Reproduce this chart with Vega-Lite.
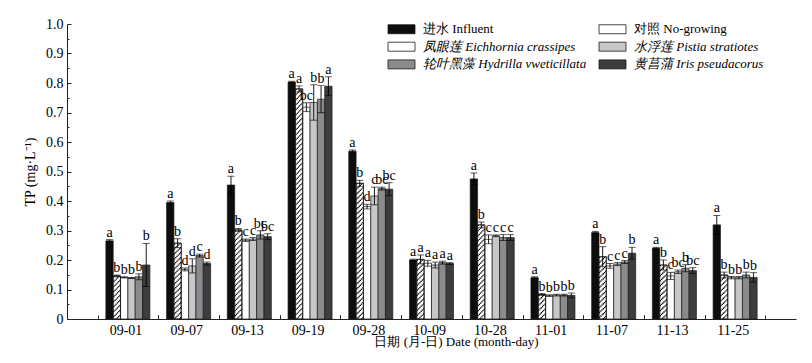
{
"$schema":"https://vega.github.io/schema/vega-lite/v6.json",
"width":729,"height":295,
"autosize":{"type":"none"},
"padding":{"left":67,"top":24,"right":16,"bottom":44},
"background":"#ffffff",
"config":{"view":{"stroke":null},"axis":{"grid":false}},
"data":{"values":[
{"d":"09-01","s":"进水 Influent","v":0.265,"lo":0.261,"hi":0.269,"l":"a"},
{"d":"09-01","s":"对照 No-growing","v":0.146,"lo":0.143,"hi":0.149,"l":"b"},
{"d":"09-01","s":"凤眼莲 Eichhornia crassipes","v":0.141,"lo":0.139,"hi":0.143,"l":"b"},
{"d":"09-01","s":"水浮莲 Pistia stratiotes","v":0.139,"lo":0.137,"hi":0.141,"l":"b"},
{"d":"09-01","s":"轮叶黑藻 Hydrilla vweticillata","v":0.143,"lo":0.133,"hi":0.153,"l":"b"},
{"d":"09-01","s":"黄菖蒲 Iris pseudacorus","v":0.183,"lo":0.110,"hi":0.256,"l":"b"},
{"d":"09-07","s":"进水 Influent","v":0.395,"lo":0.390,"hi":0.400,"l":"a"},
{"d":"09-07","s":"对照 No-growing","v":0.257,"lo":0.242,"hi":0.272,"l":"b"},
{"d":"09-07","s":"凤眼莲 Eichhornia crassipes","v":0.168,"lo":0.163,"hi":0.173,"l":"d"},
{"d":"09-07","s":"水浮莲 Pistia stratiotes","v":0.180,"lo":0.156,"hi":0.204,"l":"d"},
{"d":"09-07","s":"轮叶黑藻 Hydrilla vweticillata","v":0.215,"lo":0.210,"hi":0.220,"l":"c"},
{"d":"09-07","s":"黄菖蒲 Iris pseudacorus","v":0.188,"lo":0.183,"hi":0.193,"l":"d"},
{"d":"09-13","s":"进水 Influent","v":0.454,"lo":0.424,"hi":0.484,"l":"a"},
{"d":"09-13","s":"对照 No-growing","v":0.302,"lo":0.297,"hi":0.307,"l":"b"},
{"d":"09-13","s":"凤眼莲 Eichhornia crassipes","v":0.267,"lo":0.263,"hi":0.271,"l":"c"},
{"d":"09-13","s":"水浮莲 Pistia stratiotes","v":0.271,"lo":0.266,"hi":0.276,"l":"c"},
{"d":"09-13","s":"轮叶黑藻 Hydrilla vweticillata","v":0.285,"lo":0.271,"hi":0.299,"l":"bc"},
{"d":"09-13","s":"黄菖蒲 Iris pseudacorus","v":0.279,"lo":0.269,"hi":0.289,"l":"bc"},
{"d":"09-19","s":"进水 Influent","v":0.803,"lo":0.800,"hi":0.806,"l":"a"},
{"d":"09-19","s":"对照 No-growing","v":0.780,"lo":0.770,"hi":0.790,"l":"a"},
{"d":"09-19","s":"凤眼莲 Eichhornia crassipes","v":0.718,"lo":0.703,"hi":0.733,"l":"bc"},
{"d":"09-19","s":"水浮莲 Pistia stratiotes","v":0.734,"lo":0.674,"hi":0.794,"l":"b"},
{"d":"09-19","s":"轮叶黑藻 Hydrilla vweticillata","v":0.745,"lo":0.699,"hi":0.791,"l":"b"},
{"d":"09-19","s":"黄菖蒲 Iris pseudacorus","v":0.789,"lo":0.757,"hi":0.821,"l":"a"},
{"d":"09-28","s":"进水 Influent","v":0.569,"lo":0.565,"hi":0.573,"l":"a"},
{"d":"09-28","s":"对照 No-growing","v":0.460,"lo":0.450,"hi":0.470,"l":"b"},
{"d":"09-28","s":"凤眼莲 Eichhornia crassipes","v":0.381,"lo":0.373,"hi":0.389,"l":"d"},
{"d":"09-28","s":"水浮莲 Pistia stratiotes","v":0.417,"lo":0.387,"hi":0.447,"l":"c"},
{"d":"09-28","s":"轮叶黑藻 Hydrilla vweticillata","v":0.442,"lo":0.437,"hi":0.447,"l":"bc"},
{"d":"09-28","s":"黄菖蒲 Iris pseudacorus","v":0.440,"lo":0.418,"hi":0.462,"l":"bc"},
{"d":"10-09","s":"进水 Influent","v":0.200,"lo":0.197,"hi":0.203,"l":"a"},
{"d":"10-09","s":"对照 No-growing","v":0.202,"lo":0.187,"hi":0.217,"l":"a"},
{"d":"10-09","s":"凤眼莲 Eichhornia crassipes","v":0.189,"lo":0.179,"hi":0.199,"l":"a"},
{"d":"10-09","s":"水浮莲 Pistia stratiotes","v":0.183,"lo":0.173,"hi":0.193,"l":"a"},
{"d":"10-09","s":"轮叶黑藻 Hydrilla vweticillata","v":0.191,"lo":0.186,"hi":0.196,"l":"a"},
{"d":"10-09","s":"黄菖蒲 Iris pseudacorus","v":0.188,"lo":0.185,"hi":0.191,"l":"a"},
{"d":"10-28","s":"进水 Influent","v":0.475,"lo":0.455,"hi":0.495,"l":"a"},
{"d":"10-28","s":"对照 No-growing","v":0.319,"lo":0.309,"hi":0.329,"l":"b"},
{"d":"10-28","s":"凤眼莲 Eichhornia crassipes","v":0.270,"lo":0.255,"hi":0.285,"l":"c"},
{"d":"10-28","s":"水浮莲 Pistia stratiotes","v":0.282,"lo":0.279,"hi":0.285,"l":"c"},
{"d":"10-28","s":"轮叶黑藻 Hydrilla vweticillata","v":0.276,"lo":0.266,"hi":0.286,"l":"c"},
{"d":"10-28","s":"黄菖蒲 Iris pseudacorus","v":0.276,"lo":0.266,"hi":0.286,"l":"c"},
{"d":"11-01","s":"进水 Influent","v":0.140,"lo":0.137,"hi":0.143,"l":"a"},
{"d":"11-01","s":"对照 No-growing","v":0.083,"lo":0.080,"hi":0.086,"l":"b"},
{"d":"11-01","s":"凤眼莲 Eichhornia crassipes","v":0.079,"lo":0.076,"hi":0.082,"l":"b"},
{"d":"11-01","s":"水浮莲 Pistia stratiotes","v":0.081,"lo":0.078,"hi":0.084,"l":"b"},
{"d":"11-01","s":"轮叶黑藻 Hydrilla vweticillata","v":0.081,"lo":0.078,"hi":0.084,"l":"b"},
{"d":"11-01","s":"黄菖蒲 Iris pseudacorus","v":0.080,"lo":0.072,"hi":0.088,"l":"b"},
{"d":"11-07","s":"进水 Influent","v":0.293,"lo":0.289,"hi":0.297,"l":"a"},
{"d":"11-07","s":"对照 No-growing","v":0.211,"lo":0.177,"hi":0.245,"l":"b"},
{"d":"11-07","s":"凤眼莲 Eichhornia crassipes","v":0.180,"lo":0.172,"hi":0.188,"l":"c"},
{"d":"11-07","s":"水浮莲 Pistia stratiotes","v":0.186,"lo":0.181,"hi":0.191,"l":"c"},
{"d":"11-07","s":"轮叶黑藻 Hydrilla vweticillata","v":0.193,"lo":0.188,"hi":0.198,"l":"c"},
{"d":"11-07","s":"黄菖蒲 Iris pseudacorus","v":0.223,"lo":0.203,"hi":0.243,"l":"b"},
{"d":"11-13","s":"进水 Influent","v":0.240,"lo":0.237,"hi":0.243,"l":"a"},
{"d":"11-13","s":"对照 No-growing","v":0.183,"lo":0.166,"hi":0.200,"l":"b"},
{"d":"11-13","s":"凤眼莲 Eichhornia crassipes","v":0.146,"lo":0.134,"hi":0.158,"l":"c"},
{"d":"11-13","s":"水浮莲 Pistia stratiotes","v":0.160,"lo":0.154,"hi":0.166,"l":"bc"},
{"d":"11-13","s":"轮叶黑藻 Hydrilla vweticillata","v":0.172,"lo":0.160,"hi":0.184,"l":"b"},
{"d":"11-13","s":"黄菖蒲 Iris pseudacorus","v":0.164,"lo":0.154,"hi":0.174,"l":"bc"},
{"d":"11-25","s":"进水 Influent","v":0.319,"lo":0.287,"hi":0.351,"l":"a"},
{"d":"11-25","s":"对照 No-growing","v":0.149,"lo":0.139,"hi":0.159,"l":"b"},
{"d":"11-25","s":"凤眼莲 Eichhornia crassipes","v":0.140,"lo":0.136,"hi":0.144,"l":"b"},
{"d":"11-25","s":"水浮莲 Pistia stratiotes","v":0.140,"lo":0.136,"hi":0.144,"l":"b"},
{"d":"11-25","s":"轮叶黑藻 Hydrilla vweticillata","v":0.149,"lo":0.139,"hi":0.159,"l":"b"},
{"d":"11-25","s":"黄菖蒲 Iris pseudacorus","v":0.141,"lo":0.125,"hi":0.157,"l":"b"}
]},
"encoding":{
 "x":{"field":"d","type":"nominal","scale":{"paddingInner":0.275,"paddingOuter":0.64},"axis":null},
 "y":{"field":"v","type":"quantitative","scale":{"domain":[0,1],"nice":false},"axis":null}
},
"layer":[
 {"mark":{"type":"bar","stroke":"#1a1a1a","strokeWidth":0.7},
  "encoding":{
   "x":{"field":"d","type":"nominal","scale":{"paddingInner":0.275,"paddingOuter":0.64},
        "axis":{"orient":"bottom","bandPosition":0,"tickOffset":-8.35,"labelOffset":6,"tickSize":-4,"labelPadding":8,"labelAngle":0,"labelFont":"Liberation Serif","labelFontSize":14,"labelColor":"#000","domainColor":"#222","tickColor":"#222","title":"日期 (月-日) Date (month-day)","titleFont":"Liberation Serif","titleFontSize":13,"titleFontWeight":"normal","titleColor":"#000","titlePadding":-2,"titleX":389,"titleAlign":"center"}},
   "xOffset":{"field":"s","type":"nominal","sort":["进水 Influent","对照 No-growing","凤眼莲 Eichhornia crassipes","水浮莲 Pistia stratiotes","轮叶黑藻 Hydrilla vweticillata","黄菖蒲 Iris pseudacorus"],"scale":{"paddingInner":0,"paddingOuter":0}},
   "y":{"field":"v","type":"quantitative","scale":{"domain":[0,1],"nice":false},
        "axis":{"orient":"left","values":[0,0.1,0.2,0.3,0.4,0.5,0.6,0.7,0.8,0.9,1],"labelExpr":"datum.value === 0 ? '0' : format(datum.value, '.1f')","tickSize":-4,"labelPadding":8,"domainColor":"#222","tickColor":"#222","labelFont":"Liberation Serif","labelFontSize":14,"labelColor":"#000","labelFlush":false,"labelOverlap":false,"title":"TP (mg·L⁻¹)","titleFont":"Liberation Serif","titleFontSize":14,"titleFontWeight":"normal","titleColor":"#000","titlePadding":8}},
   "color":{"field":"s","type":"nominal",
        "scale":{"domain":["进水 Influent","对照 No-growing","凤眼莲 Eichhornia crassipes","水浮莲 Pistia stratiotes","轮叶黑藻 Hydrilla vweticillata","黄菖蒲 Iris pseudacorus"],"range":["#0d0d0d","#ffffff","#ffffff","#c7c6c9","#8b8b8d","#3d3d3f"]},
        "legend":{"orient":"none","legendX":319,"legendY":-1.5,"columns":2,"direction":"horizontal","title":null,"padding":0,"symbolType":"M-1,-1H5V1H-1Z","symbolSize":81,"symbolStrokeColor":"#1a1a1a","symbolStrokeWidth":0.8,"symbolOpacity":1,"labelFont":"Liberation Serif","labelFontSize":13,"labelColor":"#000","labelLimit":400,"labelOffset":24,"rowPadding":3.7,"columnPadding":10,
          "encode":{
            "symbols":{"update":{"stroke":{"value":"#1a1a1a"},"strokeWidth":{"value":0.8}}},
            "labels":{"update":{"fontStyle":{"signal":"indexof(datum.value, 'Influent') >= 0 || indexof(datum.value, 'No-growing') >= 0 ? 'normal' : 'italic'"}}}
          }}}
  }},
 {"transform":[{"filter":"datum.s === '对照 No-growing'"}],"mark":{"type":"rule","color":"#000","strokeWidth":1.25,"strokeDash":[1.3,3.7],"strokeDashOffset":0},
  "encoding":{"x":{"field":"d","type":"nominal","bandPosition":0.18056},"y2":{"datum":0}}},
 {"transform":[{"filter":"datum.s === '对照 No-growing'"}],"mark":{"type":"rule","color":"#000","strokeWidth":1.25,"strokeDash":[1.3,3.7],"strokeDashOffset":1.22},
  "encoding":{"x":{"field":"d","type":"nominal","bandPosition":0.20833},"y2":{"datum":0}}},
 {"transform":[{"filter":"datum.s === '对照 No-growing'"}],"mark":{"type":"rule","color":"#000","strokeWidth":1.25,"strokeDash":[1.3,3.7],"strokeDashOffset":2.44},
  "encoding":{"x":{"field":"d","type":"nominal","bandPosition":0.23611},"y2":{"datum":0}}},
 {"transform":[{"filter":"datum.s === '对照 No-growing'"}],"mark":{"type":"rule","color":"#000","strokeWidth":1.25,"strokeDash":[1.3,3.7],"strokeDashOffset":3.66},
  "encoding":{"x":{"field":"d","type":"nominal","bandPosition":0.26389},"y2":{"datum":0}}},
 {"transform":[{"filter":"datum.s === '对照 No-growing'"}],"mark":{"type":"rule","color":"#000","strokeWidth":1.25,"strokeDash":[1.3,3.7],"strokeDashOffset":4.88},
  "encoding":{"x":{"field":"d","type":"nominal","bandPosition":0.29167},"y2":{"datum":0}}},
 {"transform":[{"filter":"datum.s === '对照 No-growing'"}],"mark":{"type":"rule","color":"#000","strokeWidth":1.25,"strokeDash":[1.3,3.7],"strokeDashOffset":6.1},
  "encoding":{"x":{"field":"d","type":"nominal","bandPosition":0.31944},"y2":{"datum":0}}},
 {"transform":[{"filter":"datum.s === '对照 No-growing'"}],"mark":{"type":"bar","fill":"transparent","stroke":"#1a1a1a","strokeWidth":0.7},
  "encoding":{"xOffset":{"field":"s","type":"nominal","sort":["进水 Influent","对照 No-growing","凤眼莲 Eichhornia crassipes","水浮莲 Pistia stratiotes","轮叶黑藻 Hydrilla vweticillata","黄菖蒲 Iris pseudacorus"]}}},
 {"mark":{"type":"rule","color":"#000","strokeWidth":0.9},
  "encoding":{
   "x":{"field":"d","type":"nominal","scale":{"paddingInner":0.275,"paddingOuter":0.64},
        "axis":{"orient":"bottom","bandPosition":1,"tickOffset":8.35,"labels":false,"domain":false,"tickSize":-4,"tickColor":"#222","title":null}},
   "xOffset":{"field":"s","type":"nominal","sort":["进水 Influent","对照 No-growing","凤眼莲 Eichhornia crassipes","水浮莲 Pistia stratiotes","轮叶黑藻 Hydrilla vweticillata","黄菖蒲 Iris pseudacorus"]},
   "y":{"field":"lo","type":"quantitative","scale":{"domain":[0,1],"nice":false},
        "axis":{"orient":"left","values":[0.05,0.15,0.25,0.35,0.45,0.55,0.65,0.75,0.85,0.95],"labels":false,"domain":false,"tickSize":-2,"tickColor":"#222","title":null}},
   "y2":{"field":"hi"}}},
 {"mark":{"type":"tick","orient":"horizontal","color":"#000","thickness":0.9,"size":7},
  "encoding":{"xOffset":{"field":"s","type":"nominal","sort":["进水 Influent","对照 No-growing","凤眼莲 Eichhornia crassipes","水浮莲 Pistia stratiotes","轮叶黑藻 Hydrilla vweticillata","黄菖蒲 Iris pseudacorus"]},
   "y":{"field":"hi","type":"quantitative","scale":{"domain":[0,1],"nice":false},"axis":null}}},
 {"mark":{"type":"tick","orient":"horizontal","color":"#000","thickness":0.9,"size":7},
  "encoding":{"xOffset":{"field":"s","type":"nominal","sort":["进水 Influent","对照 No-growing","凤眼莲 Eichhornia crassipes","水浮莲 Pistia stratiotes","轮叶黑藻 Hydrilla vweticillata","黄菖蒲 Iris pseudacorus"]},
   "y":{"field":"lo","type":"quantitative","scale":{"domain":[0,1],"nice":false},"axis":null}}},
 {"mark":{"type":"text","baseline":"alphabetic","dy":-3,"font":"Liberation Serif","fontSize":14,"fill":"#000"},
  "encoding":{"xOffset":{"field":"s","type":"nominal","sort":["进水 Influent","对照 No-growing","凤眼莲 Eichhornia crassipes","水浮莲 Pistia stratiotes","轮叶黑藻 Hydrilla vweticillata","黄菖蒲 Iris pseudacorus"]},
   "y":{"field":"hi","type":"quantitative","scale":{"domain":[0,1],"nice":false},"axis":null},"text":{"field":"l"}}}
],
"resolve":{"axis":{"x":"independent","y":"independent"}}
}
